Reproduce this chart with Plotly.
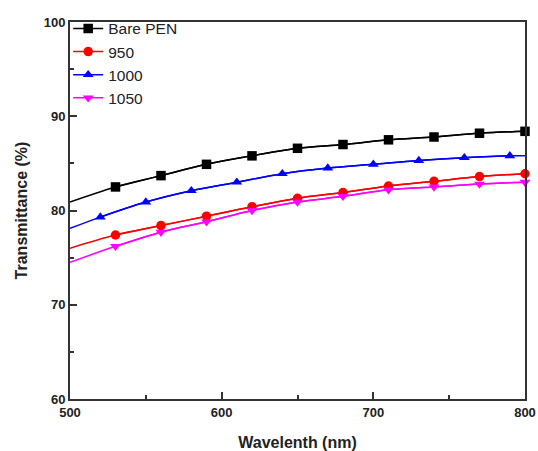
import plotly.graph_objects as go

# longitud de onda (nm) y transmitancia (%)
series = ['Bare PEN', '950', '1000', '1050']

x_bare = [500, 530, 560, 590, 620, 650, 680, 710, 740, 770, 800]
y_bare = [80.9, 82.5, 83.7, 84.9, 85.8, 86.6, 87.0, 87.5, 87.8, 88.2, 88.4]

x_950 = [500, 530, 560, 590, 620, 650, 680, 710, 740, 770, 800]
y_950 = [76.0, 77.4, 78.4, 79.4, 80.4, 81.3, 81.9, 82.6, 83.1, 83.6, 83.9]

x_1000 = [500, 520, 550, 580, 610, 640, 670, 700, 730, 760, 790, 800]
y_1000 = [78.1, 79.3, 80.9, 82.1, 83.0, 83.9, 84.5, 84.9, 85.3, 85.6, 85.8, 85.8]

x_1050 = [500, 530, 560, 590, 620, 650, 680, 710, 740, 770, 800]
y_1050 = [74.5, 76.2, 77.7, 78.8, 80.0, 80.9, 81.5, 82.2, 82.5, 82.8, 83.0]

colores = ['black', '#ff0000', '#0000ff', '#ff00ff']
simbolos = ['square', 'circle', 'triangle-up', 'triangle-down']

datos = [(x_bare, y_bare, False), (x_950, y_950, False),
         (x_1000, y_1000, True), (x_1050, y_1050, False)]

fig = go.Figure()
for nombre, (xs, ys, ultimo_sin_marca), c, s in zip(series, datos, colores, simbolos):
    # la curva completa (empieza en 500 nm sin marcador)
    fig.add_trace(go.Scatter(x=xs, y=ys, mode='lines', line=dict(color=c, width=1.5, shape='spline'),
                             showlegend=False, hoverinfo='skip'))
    # marcadores
    fin = -1 if ultimo_sin_marca else None
    fig.add_trace(go.Scatter(x=xs[1:fin], y=ys[1:fin], mode='lines+markers', name=nombre,
                             line=dict(color=c, width=1.5, shape='spline'),
                             marker=dict(symbol=s, size=9.5, color=c), cliponaxis=False))

fuente = 'Liberation Sans, Arial'
eje = dict(showline=True, linecolor='#333', linewidth=2, mirror=True, showgrid=False, zeroline=False,
           ticks='inside', ticklen=7, tickwidth=1.5, tickcolor='#333', automargin=False,
           tickfont=dict(family=fuente, size=13, color='#222', weight='bold'))

fig.update_layout(
    width=538, height=451,
    margin=dict(l=70, r=13, t=17, b=52),
    plot_bgcolor='white', paper_bgcolor='white',
    xaxis=dict(eje, range=[500, 800], dtick=100,
               minor=dict(ticks='inside', ticklen=4, dtick=50, tickcolor='#333'),
               title=dict(text='Wavelenth (nm)', standoff=18,
                          font=dict(family=fuente, size=16, color='#222', weight='bold'))),
    yaxis=dict(eje, range=[60, 100], dtick=10,
               minor=dict(ticks='inside', ticklen=4, dtick=5, tickcolor='#333'),
               title=dict(text='Transmittance (%)', standoff=12,
                          font=dict(family=fuente, size=16, color='#222', weight='bold'))),
    legend=dict(x=-0.004, y=1.027, xanchor='left', yanchor='top', bgcolor='rgba(0,0,0,0)',
                font=dict(family=fuente, size=15.5, color='#222'),
                tracegroupgap=0, itemwidth=30),
    showlegend=True,
)

# quitamos el margen por defecto del body para que la figura ocupe toda la ventana
fig.write_html('out.html', config={'displayModeBar': False},
               post_script="document.body.style.margin='0';document.body.style.overflow='hidden';")
